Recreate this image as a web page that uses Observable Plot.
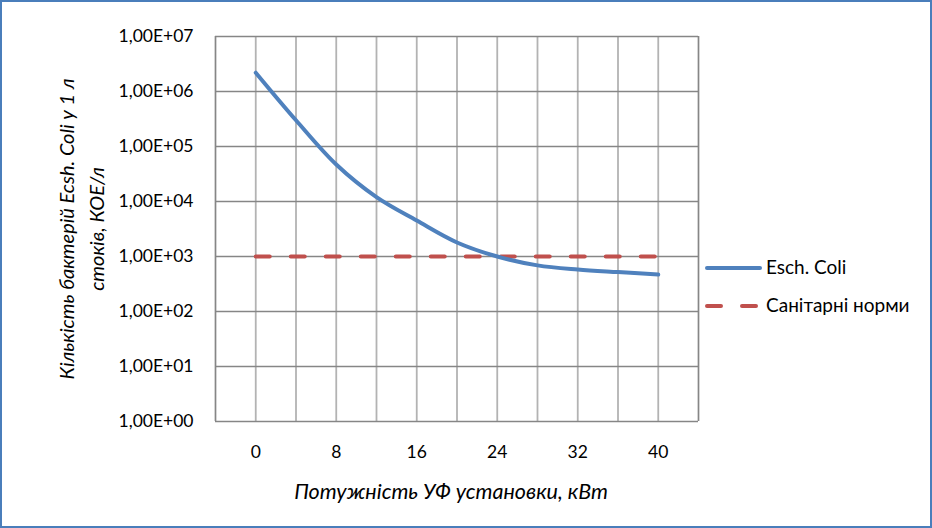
<!DOCTYPE html>
<html>
<head>
<meta charset="utf-8">
<script src="https://cdn.jsdelivr.net/npm/d3@7"></script>
<script src="https://cdn.jsdelivr.net/npm/@observablehq/plot@0.6"></script>
<style>
  html, body { margin: 0; padding: 0; background: #fff; }
</style>
</head>
<body>
<div id="chart"></div>
<script>
// ---- data ----
const powerKW = [0, 4, 8, 12, 16, 20, 24, 28, 32, 36, 40];
const eColi = [2.2e6, 3.0e5, 4.7e4, 1.2e4, 4.5e3, 1.8e3, 1.0e3, 690, 580, 520, 470];
const sanitaryNorm = [1000, 1000, 1000, 1000, 1000, 1000, 1000, 1000, 1000, 1000, 1000];
const xTickValues = [0, 8, 16, 24, 32, 40];
const yTickValues = [1, 10, 100, 1000, 1e4, 1e5, 1e6, 1e7];
const yTickLabels = ["1,00E+00", "1,00E+01", "1,00E+02", "1,00E+03", "1,00E+04", "1,00E+05", "1,00E+06", "1,00E+07"];
const seriesNames = ["Esch. Coli", "Санітарні норми"];
const xTitle = "Потужність УФ установки, кВт";
const yTitleLines = ["Кількість бактерій Ecsh. Coli у 1 л", "стоків, КОЕ/л"];

const blue = "#4f81bd", red = "#c0504d";
const ecoliData = powerKW.map((x, i) => ({x, y: eColi[i]}));
const normData = powerKW.map((x, i) => ({x, y: sanitaryNorm[i]}));

const W = 932, H = 528;
const chart = Plot.plot({
  width: W, height: H,
  marginLeft: 215, marginRight: 234, marginTop: 36, marginBottom: 107,
  style: {fontFamily: "Lato", fontSize: "17.5px", color: "#000", background: "#fff"},
  x: {type: "linear", domain: [-4, 44], ticks: xTickValues, tickSize: 0, tickPadding: 24, label: null, tickFormat: d => String(d)},
  y: {type: "log", domain: [1, 1e7], ticks: yTickValues, tickSize: 0, tickPadding: 22, label: null,
      tickFormat: d => yTickLabels[yTickValues.indexOf(d)]},
  marks: [
    Plot.ruleX(powerKW, {stroke: "#b3b3b3", strokeWidth: 1.8}),
    Plot.ruleY(yTickValues, {stroke: "#868686", strokeWidth: 1.7}),
    Plot.ruleX([-4, 44], {stroke: "#868686", strokeWidth: 1.7}),
    Plot.line(normData, {x: "x", y: "y", stroke: red, strokeWidth: 4, strokeDasharray: "14,21", strokeLinecap: "round"}),
    Plot.line(ecoliData, {x: "x", y: "y", stroke: blue, strokeWidth: 4, curve: "catmull-rom", strokeLinecap: "round"})
  ]
});
document.getElementById("chart").appendChild(chart);

const svg = d3.select(chart);
// outer border
svg.append("rect").attr("x", 1).attr("y", 1).attr("width", W - 2).attr("height", H - 2)
  .attr("fill", "none").attr("stroke", "#4a7ebb").attr("stroke-width", 2);

// x title
svg.append("text").attr("x", 451).attr("y", 499).attr("text-anchor", "middle")
  .attr("font-family", "Lato").attr("font-style", "italic").attr("font-size", 21.5)
  .attr("fill", "#000").text(xTitle);

// y title (two lines, rotated)
const yt = svg.append("text").attr("transform", "translate(75,229) rotate(-90)")
  .attr("text-anchor", "middle").attr("font-family", "Lato").attr("font-style", "italic")
  .attr("font-size", 20).attr("fill", "#000");
yt.append("tspan").attr("x", 0).attr("y", -1).text(yTitleLines[0]);
yt.append("tspan").attr("x", 0).attr("y", 29).text(yTitleLines[1]);

// legend
const lg = svg.append("g").attr("font-family", "Lato").attr("font-size", 19).attr("fill", "#000")
  .attr("text-anchor", "start");
lg.append("line").attr("x1", 707).attr("x2", 760).attr("y1", 268).attr("y2", 268)
  .attr("stroke", blue).attr("stroke-width", 4).attr("stroke-linecap", "round");
lg.append("text").attr("x", 766).attr("y", 274).text(seriesNames[0]);
lg.append("line").attr("x1", 707).attr("x2", 760).attr("y1", 306).attr("y2", 306)
  .attr("stroke", red).attr("stroke-width", 4).attr("stroke-dasharray", "14,21").attr("stroke-linecap", "round");
lg.append("text").attr("x", 766).attr("y", 312).text(seriesNames[1]);
</script>
</body>
</html>
